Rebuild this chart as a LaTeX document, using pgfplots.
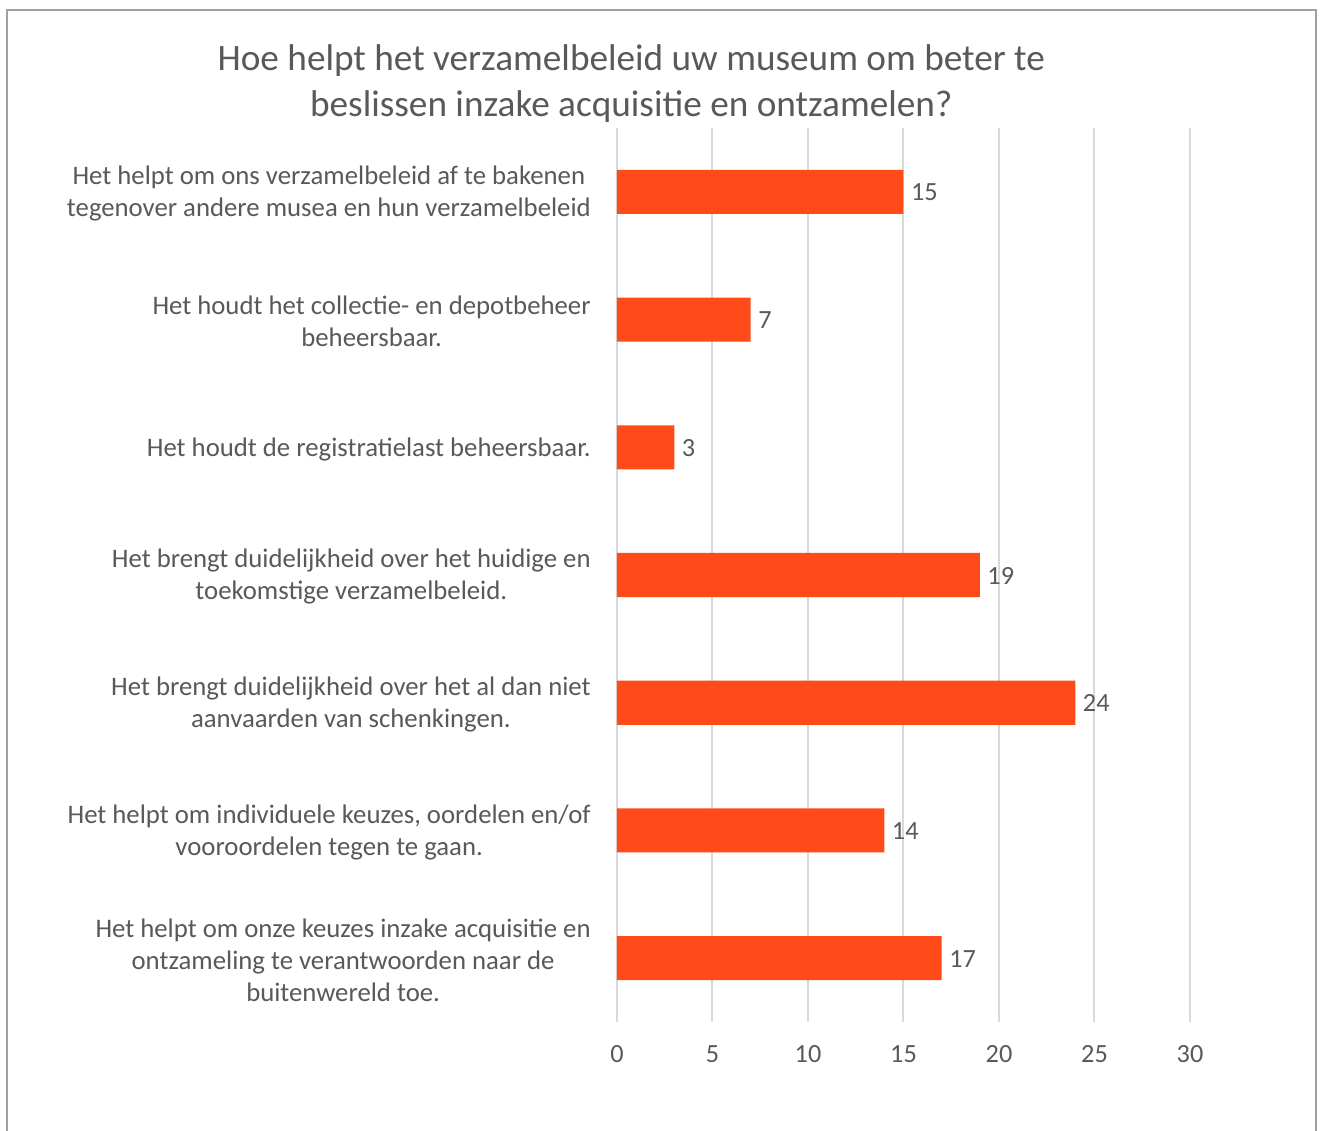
\documentclass[border=0pt]{standalone}
\usepackage{pgfplots}
\pgfplotsset{compat=1.18}
\usepackage{fontspec}
\setmainfont{Carlito}
\definecolor{barc}{RGB}{255,75,25}
\definecolor{txt}{RGB}{89,89,89}
\definecolor{grd}{RGB}{217,217,217}
\definecolor{frm}{RGB}{160,160,160}
\begin{document}
\begin{tikzpicture}
\useasboundingbox[fill=white] (0,0) rectangle (528pt,452.4pt);
\draw[frm, line width=0.6pt] (2.8pt,0) -- (2.8pt,448.4pt) -- (526.4pt,448.4pt) -- (526.4pt,0);
\node[align=center, text=txt, font=\fontsize{14.9}{18.4}\selectfont] at (252.5pt,419.0pt)
  {Hoe helpt het verzamelbeleid uw museum om beter te\\beslissen inzake acquisitie en ontzamelen?};
\begin{axis}[
  at={(246.8pt,43.6pt)}, anchor=south west,
  scale only axis, width=229.2pt, height=357.6pt,
  xmin=0, xmax=30, ymin=-0.5, ymax=6.5,
  y dir=reverse,
  xtick={0,5,...,30},
  ytick={0,...,6},
  yticklabels={
    {Het helpt om ons verzamelbeleid af te bakenen\\tegenover andere musea en hun verzamelbeleid},
    {Het houdt het collectie- en depotbeheer\\beheersbaar.},
    {Het houdt de registratielast beheersbaar.},
    {Het brengt duidelijkheid over het huidige en\\toekomstige verzamelbeleid.},
    {Het brengt duidelijkheid over het al dan niet\\aanvaarden van schenkingen.},
    {Het helpt om individuele keuzes, oordelen en/of\\vooroordelen tegen te gaan.},
    {Het helpt om onze keuzes inzake acquisitie en\\ontzameling te verantwoorden naar de\\buitenwereld toe.}},
  yticklabel style={align=center, anchor=east, text=txt, font=\fontsize{10.7}{12.8}\selectfont, xshift=-7pt, yshift=-0.8pt},
  xticklabel style={text=txt, font=\fontsize{10.5}{12}\selectfont, yshift=-6pt},
  /pgf/number format/assume math mode=true,
  xmajorgrids, grid style={grd, line width=0.8pt},
  axis line style={draw=none},
  major tick length=0pt,
  xbar, bar width=0.345,
  nodes near coords,
  nodes near coords style={text=txt, font=\fontsize{10.5}{12}\selectfont, anchor=west, xshift=-0.5pt, yshift=-0.3pt},
]
\addplot[fill=barc, draw=none] coordinates {(15,0) (7,1) (3,2) (19,3) (24,4) (14,5) (17,6)};
\end{axis}
\end{tikzpicture}
\end{document}
